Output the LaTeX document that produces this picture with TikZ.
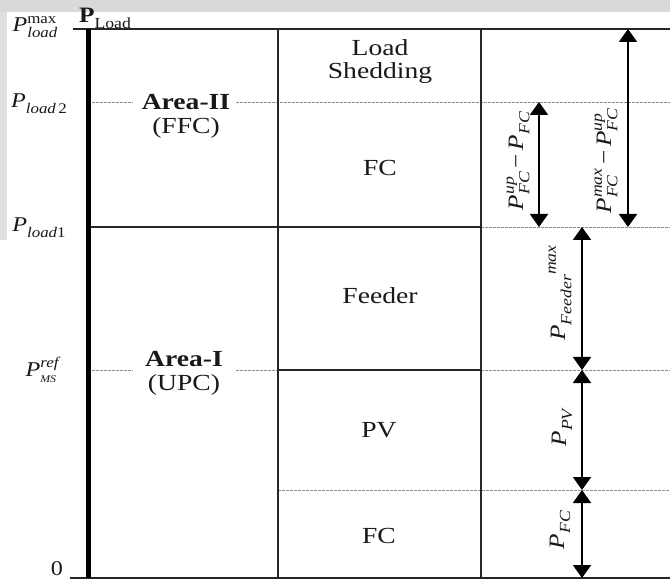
\documentclass[tikz,border=0pt]{standalone}
\usepackage{fontspec}
\setmainfont[FakeStretch=1.2]{Liberation Serif}
\newfontfamily\labfont[FakeStretch=1.15]{Liberation Serif}
\usetikzlibrary{arrows.meta}
\makeatletter
\newcommand{\relsz}{\@tempdima=\f@size pt \@tempdima=0.7\@tempdima \fontsize{\strip@pt\@tempdima}{\strip@pt\@tempdima}\selectfont}
\makeatother
\newcommand{\subr}[1]{\raisebox{-0.28em}{\relsz #1}}
\newcommand{\supr}[1]{\raisebox{0.42em}{\relsz #1}}
\newcommand{\supsub}[2]{\setbox0\hbox{\supr{#1}}\setbox2\hbox{\subr{#2}}\ifdim\wd0>\wd2 \rlap{\box2}\box0\else\rlap{\box0}\box2\fi}
\newcommand{\mminus}{\,\symbol{"2212}\,}
\begin{document}
\begin{tikzpicture}[x=1pt,y=-1pt,
  frame/.style={line width=2pt, draw=black!85},
  axis/.style={line width=5pt, draw=black},
  guide/.style={draw=black!45, line width=0.8pt, dash pattern=on 2.5pt off 1.5pt},
  dim/.style={line width=2pt, {Triangle[width=18pt,length=13pt]}-{Triangle[width=18pt,length=13pt]}},
  boxtext/.style={font=\fontsize{23}{25}\selectfont, text=black!90, align=center, inner sep=0pt},
  axlab/.style={font=\labfont\fontsize{21}{23}\selectfont, text=black!90, inner sep=0pt},
  rotlab/.style={font=\labfont\fontsize{22}{24}\selectfont, text=black!90, inner sep=0pt, rotate=90}]
\useasboundingbox (0,0) rectangle (670,580);
\fill[white] (0,0) rectangle (670,580);
\fill[black!15] (0,0) rectangle (670,12);
\fill[black!12] (0,12) rectangle (7,240);

% coordinates
\coordinate (top0) at (73,29);   \coordinate (top1) at (670,29);
\coordinate (bot0) at (70,578);  \coordinate (bot1) at (670,578);
\coordinate (axT) at (88,29);    \coordinate (axB) at (88,578);
\coordinate (c1T) at (278,29);   \coordinate (c1B) at (278,578);
\coordinate (c2T) at (481,29);   \coordinate (c2B) at (481,578);

% dashed guides
\draw[guide] (92,102) -- (133,102);
\draw[guide] (236,102) -- (670,102);
\draw[guide] (481,227) -- (670,227);
\draw[guide] (92,370) -- (133,370);
\draw[guide] (236,370) -- (278,370);
\draw[guide] (481,370) -- (670,370);
\draw[guide] (278,490) -- (670,490);

% frame
\draw[frame] (top0) -- (top1);
\draw[frame] (bot0) -- (bot1);
\draw[frame] (c1T) -- (c1B);
\draw[frame, line width=2.5pt] (c2T) -- (c2B);
\draw[frame] (88,227) -- (481,227);
\draw[frame] (278,370) -- (481,370);
\draw[axis] (axT) -- (axB);

% box texts
\node[boxtext] (ls) at (380,62) {Load\\[-2pt]Shedding};
\node[boxtext] (fcu) at (380,168) {FC};
\node[boxtext] (fd) at (380,296) {Feeder};
\node[boxtext] (pv) at (379,430) {PV};
\node[boxtext] (fcl) at (379,536) {FC};
\node[boxtext] (a2) at (186,116) {\textbf{Area-II}\\[-1pt](FFC)};
\node[boxtext] (a1) at (184,373) {\textbf{Area-I}\\[-1pt](UPC)};

% axis labels
\node[axlab] (pmax) at (35,27) {\textit{P}\supsub{max}{\textit{load}}};
\node[axlab] (pl2) at (39,104) {\textit{P}\subr{\textit{load}\,2}};
\node[axlab] (pl1) at (39,228) {\textit{P}\subr{\textit{load}1}};
\node[axlab] (pref) at (43,370) {\textit{P}\supsub{\textit{ref}}{\textit{\relsz MS}}};
\node[axlab] (zero) at (57,569) {0};
\node[axlab, font=\labfont\fontsize{22}{24}\selectfont] (pload) at (105,18) {\textbf{P}\subr{Load}};

% dimension arrows
\coordinate (a1t) at (539,102); \coordinate (a1b) at (539,227);
\coordinate (a2t) at (628,29);  \coordinate (a2b) at (628,227);
\coordinate (a3t) at (582,227); \coordinate (a3b) at (582,370);
\coordinate (a4t) at (582,370); \coordinate (a4b) at (582,490);
\coordinate (a5t) at (582,490); \coordinate (a5b) at (582,578);
\draw[dim] (a1t) -- (a1b);
\draw[dim] (a2t) -- (a2b);
\draw[dim] (a3t) -- (a3b);
\draw[dim] (a4t) -- (a4b);
\draw[dim] (a5t) -- (a5b);

% dimension labels
\node[rotlab] (l1) at (518,161) {\textit{P}\supsub{\textit{up}}{\textit{FC}}\mminus\textit{P}\subr{\textit{FC}}};
\node[rotlab] (l2) at (606,161) {\textit{P}\supsub{\textit{max}}{\textit{FC}}\mminus\textit{P}\supsub{\textit{up}}{\textit{FC}}};
\node[rotlab] (l3) at (560,293) {\textit{P}\subr{\textit{Feeder}}\supr{\textit{max}}};
\node[rotlab] (l4) at (562,427) {\textit{P}\subr{\textit{PV}}};
\node[rotlab] (l5) at (560,530) {\textit{P}\subr{\textit{FC}}};
\end{tikzpicture}
\end{document}
